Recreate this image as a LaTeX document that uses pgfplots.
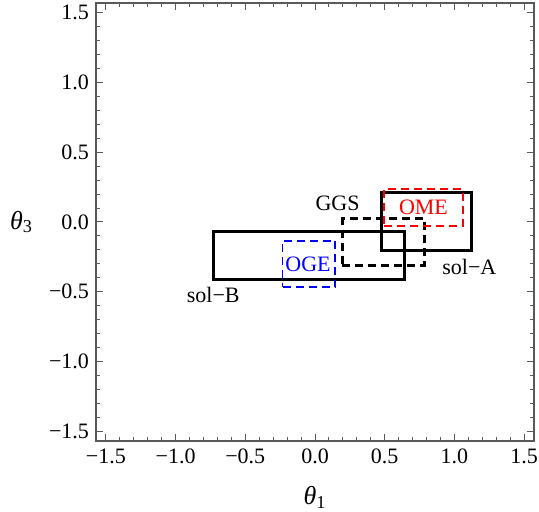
\documentclass[border=0pt]{standalone}
\usepackage{fontspec}
\setmainfont{Liberation Serif}
\usepackage{pgfplots}
\pgfplotsset{compat=1.18}
\definecolor{framegray}{gray}{0.35}
\begin{document}
\begin{tikzpicture}
\begin{axis}[
    width=219bp, height=219bp, scale only axis,
    xmin=-1.5708, xmax=1.5708, ymin=-1.5708, ymax=1.5708,
    xtick={-1.5,-1,-0.5,0,0.5,1,1.5},
    ytick={-1.5,-1,-0.5,0,0.5,1,1.5},
    xticklabels={−1.5,−1.0,−0.5,0.0,0.5,1.0,1.5},
    yticklabels={−1.5,−1.0,−0.5,0.0,0.5,1.0,1.5},
    minor tick num=4,
    tick align=inside,
    major tick length=3.5bp, minor tick length=2bp,
    axis line style={framegray, line width=0.6bp},
    every tick/.style={framegray, line width=0.5bp},
    font=\fontsize{11bp}{13bp}\selectfont,
    xticklabel style={yshift=-0.5bp},
    xlabel={{\itshape θ}\textsubscript{1}},
    ylabel={{\itshape θ}\textsubscript{3}},
    xlabel style={at={(axis description cs:0.5,-0.128)}, anchor=center, font=\fontsize{13bp}{15bp}\selectfont},
    ylabel style={rotate=-90, at={(axis description cs:-0.170,0.5)}, anchor=center, font=\fontsize{13bp}{15bp}\selectfont},
    clip=false,
]
% sol-B
\addplot[black, line width=1.5bp] coordinates {(-0.725,-0.409) (0.642,-0.409) (0.642,-0.070) (-0.725,-0.070)} -- cycle;
% sol-A
\addplot[black, line width=1.5bp] coordinates {(0.477,-0.208) (1.119,-0.208) (1.119,0.213) (0.477,0.213)} -- cycle;
% GGS
\addplot[black, line width=1.5bp, dash pattern=on 4bp off 2.5bp] coordinates {(0.196,-0.313) (0.783,-0.313) (0.783,0.022) (0.196,0.022)} -- cycle;
% OGE
\addplot[blue, line width=0.9bp, dash pattern=on 4bp off 2.5bp] coordinates {(-0.233,-0.468) (0.146,-0.468) (0.146,-0.134) (-0.233,-0.134)} -- cycle;
% OME
\addplot[red, line width=0.9bp, dash pattern=on 4bp off 2.5bp] coordinates {(0.494,-0.029) (1.059,-0.029) (1.059,0.235) (0.494,0.235)} -- cycle;
\node[font=\fontsize{11bp}{13bp}\selectfont] at (axis cs:0.162,0.136) {GGS};
\node[red, font=\fontsize{11bp}{13bp}\selectfont] at (axis cs:0.778,0.105) {OME};
\node[blue, font=\fontsize{11bp}{13bp}\selectfont] at (axis cs:-0.05,-0.303) {OGE};
\node[font=\fontsize{11bp}{13bp}\selectfont] at (axis cs:1.107,-0.32) {sol−A};
\node[font=\fontsize{11bp}{13bp}\selectfont] at (axis cs:-0.73,-0.523) {sol−B};
\coordinate (A) at (rel axis cs:0,0);
\coordinate (B) at (rel axis cs:1,1);
\end{axis}
\pgfresetboundingbox
\path[use as bounding box] ([xshift=-48bp,yshift=-35.5bp]A) rectangle ([xshift=2.5bp,yshift=1.5bp]B);
\end{tikzpicture}
\end{document}
